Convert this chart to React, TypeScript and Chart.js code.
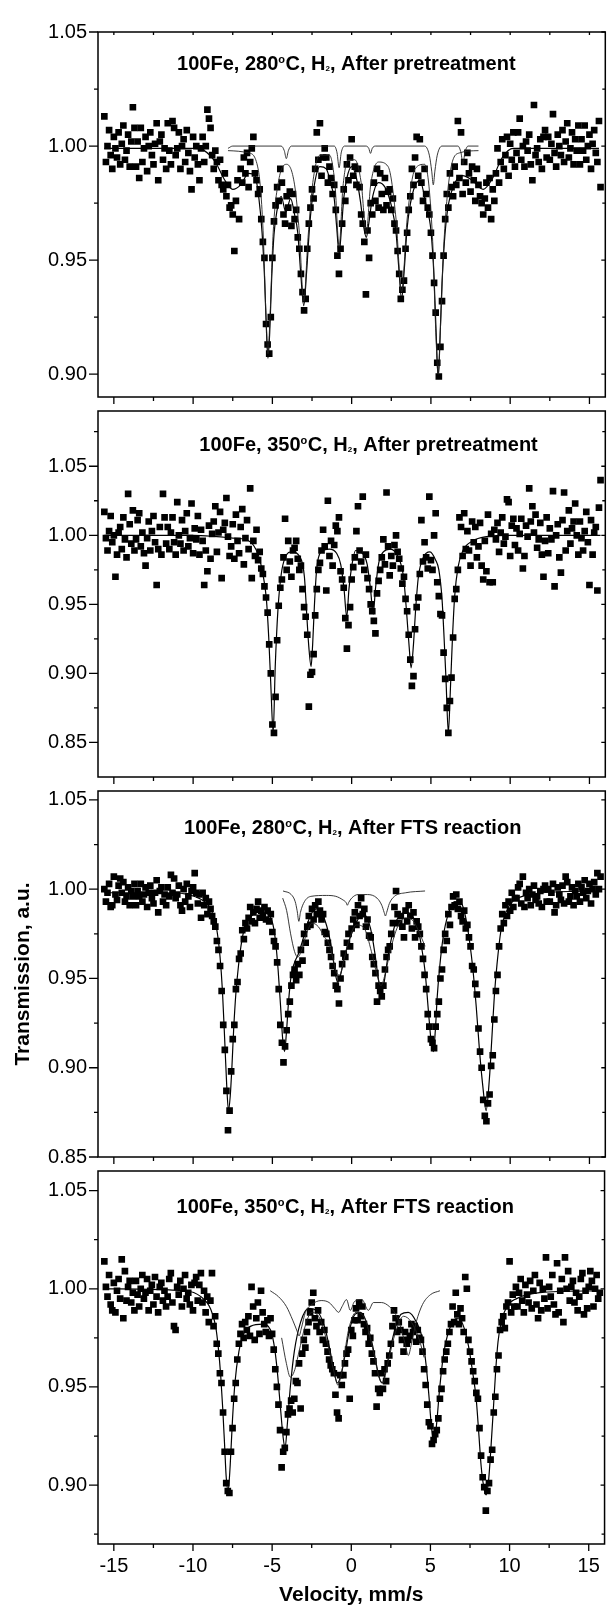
import React, { useEffect, useRef } from 'react';
import { Chart, registerables } from 'chart.js';

Chart.register(...registerables);

const FONT = '"Liberation Sans", Arial, Helvetica, sans-serif';

// velocity channels (mm/s): first channel and channel spacing
const VEL_START = -15.6;
const VEL_STEP = 0.1;

const X_MAJOR = [-15, -10, -5, 0, 5, 10, 15];
const X_MINOR = [-12.5, -7.5, -2.5, 2.5, 7.5, 12.5];

// ---------- Panel 1: 100Fe, 280 C, H2, After pretreatment ----------
const P1_DATA = [
  1.013, 0.993, 1.000, 1.007, 0.996, 0.990, 1.004, 0.999, 0.995, 1.006, 0.992, 1.001, 1.009, 0.994, 0.998, 1.005, 0.991, 1.002, 1.017, 1.008,
  0.991, 1.002, 0.986, 1.008, 0.993, 0.999, 1.004, 0.989, 1.000, 1.006, 0.996, 0.992, 1.001, 1.010, 0.985, 1.002, 1.005, 0.994, 0.999, 0.990,
  1.010, 0.998, 0.992, 1.011, 1.008, 0.996, 0.999, 1.006, 0.990, 1.000, 1.003, 0.993, 1.007, 0.997, 0.989, 0.981, 1.004, 0.995, 1.000, 0.992,
  0.985, 0.999, 1.004, 0.993, 1.000, 1.016, 1.012, 1.008, 0.996, 0.990, 0.998, 0.993, 0.985, 0.994, 0.983, 0.981, 0.988, 0.978, 0.983, 0.973,
  0.974, 0.970, 0.954, 0.976, 0.985, 0.968, 0.990, 0.984, 0.995, 0.988, 0.997, 0.982, 0.993, 0.999, 1.004, 0.988, 0.985, 0.979, 0.981, 0.968,
  0.958, 0.951, 0.922, 0.913, 0.909, 0.925, 0.951, 0.967, 0.974, 0.982, 0.976, 0.990, 0.984, 0.970, 0.966, 0.978, 0.973, 0.980, 0.965, 0.979,
  0.968, 0.972, 0.960, 0.955, 0.944, 0.936, 0.928, 0.933, 0.955, 0.966, 0.973, 0.981, 0.977, 0.990, 1.006, 0.994, 1.010, 0.987, 0.995, 0.999,
  0.995, 0.984, 0.991, 0.986, 0.979, 0.983, 0.972, 0.952, 0.944, 0.955, 0.966, 0.981, 0.976, 0.992, 0.985, 0.995, 1.003, 0.987, 0.991, 0.983,
  0.990, 0.982, 0.970, 0.966, 0.958, 0.935, 0.963, 0.951, 0.975, 0.970, 0.984, 0.976, 0.990, 0.973, 0.988, 0.979, 0.972, 0.986, 0.974, 0.980,
  0.981, 0.972, 0.977, 0.966, 0.963, 0.954, 0.944, 0.933, 0.937, 0.941, 0.955, 0.962, 0.972, 0.978, 0.990, 0.983, 0.995, 1.004, 0.987, 1.003,
  0.984, 0.976, 0.990, 0.979, 0.973, 0.970, 0.962, 0.952, 0.940, 0.927, 0.905, 0.899, 0.912, 0.932, 0.952, 0.968, 0.979, 0.973, 0.988, 0.982,
  0.978, 0.991, 0.983, 1.011, 0.986, 1.006, 0.979, 0.993, 0.984, 0.997, 0.988, 0.980, 0.991, 0.985, 0.976, 0.990, 0.983, 0.978, 0.975, 0.970,
  0.977, 0.984, 0.973, 0.986, 0.968, 0.981, 0.976, 0.988, 0.999, 0.984, 0.993, 1.003, 0.990, 0.996, 1.004, 0.987, 1.001, 0.994, 1.006, 0.991,
  0.997, 1.006, 1.012, 0.994, 1.000, 0.991, 1.002, 0.998, 1.005, 0.992, 0.985, 1.018, 0.996, 0.999, 0.993, 1.003, 0.990, 1.004, 1.007, 0.995,
  1.004, 0.994, 1.001, 1.014, 0.997, 0.991, 1.005, 1.000, 0.996, 1.007, 0.993, 1.002, 1.010, 0.995, 0.999, 1.006, 0.992, 1.003, 0.998, 1.009,
  0.992, 1.003, 0.998, 1.009, 0.994, 1.000, 1.005, 0.990, 1.001, 1.007, 0.997, 0.993, 1.011, 0.982,
];
const P1_FIT = [
  [-15.6, 0.999], [-10, 0.999], [-9.3, 0.998], [-8.6, 0.993], [-8.0, 0.985], [-7.5, 0.981], [-7.0, 0.983], [-6.5, 0.988], [-6.1, 0.987],
  [-5.85, 0.977], [-5.65, 0.962], [-5.5, 0.943], [-5.4, 0.924], [-5.28, 0.907], [-5.17, 0.918], [-5.05, 0.941], [-4.9, 0.961], [-4.7, 0.972],
  [-4.45, 0.978], [-4.15, 0.971], [-3.85, 0.977], [-3.6, 0.970], [-3.4, 0.962], [-3.22, 0.945], [-3.02, 0.930], [-2.84, 0.945], [-2.65, 0.965],
  [-2.4, 0.981], [-2.0, 0.991], [-1.6, 0.990], [-1.3, 0.983], [-1.1, 0.977], [-0.95, 0.965], [-0.79, 0.953], [-0.65, 0.963], [-0.5, 0.977],
  [-0.3, 0.986], [0.0, 0.991], [0.3, 0.986], [0.55, 0.976], [0.75, 0.965], [0.92, 0.960], [1.08, 0.966], [1.3, 0.977], [1.7, 0.984], [2.1, 0.982],
  [2.5, 0.974], [2.8, 0.962], [2.98, 0.946], [3.15, 0.933], [3.32, 0.946], [3.5, 0.964], [3.8, 0.978], [4.3, 0.985], [4.7, 0.974], [5.0, 0.963],
  [5.2, 0.942], [5.33, 0.918], [5.46, 0.898], [5.58, 0.917], [5.7, 0.940], [5.85, 0.958], [6.05, 0.972], [6.4, 0.982], [7.0, 0.987], [7.6, 0.985],
  [8.3, 0.981], [8.9, 0.986], [9.5, 0.995], [10.2, 0.999], [15.6, 0.999],
];
const P1_SUB_A = [
  [-7.8, 0.999], [-7.5, 1.0], [-4.45, 1.0], [-4.25, 0.998], [-4.12, 0.9945], [-3.99, 0.998], [-3.8, 1.0], [-1.1, 1.0], [-0.92, 0.997],
  [-0.79, 0.9905], [-0.66, 0.997], [-0.45, 1.0], [0.9, 1.0], [1.08, 0.999], [1.19, 0.9968], [1.3, 0.999], [1.5, 1.0], [4.6, 1.0], [4.9, 0.996],
  [5.05, 0.989], [5.15, 0.983], [5.25, 0.989], [5.4, 0.996], [5.7, 1.0], [6.7, 1.0], [6.9, 0.997], [7.02, 0.992], [7.14, 0.997], [7.35, 1.0], [8.0, 1.0],
];
const P1_SUB_B = [
  [-7.8, 0.998], [-6.5, 0.997], [-5.9, 0.990], [-5.6, 0.965], [-5.4, 0.925], [-5.28, 0.909], [-5.15, 0.925], [-4.95, 0.962], [-4.6, 0.985],
  [-4.1, 0.992], [-3.6, 0.983], [-3.3, 0.962], [-3.02, 0.932], [-2.75, 0.960], [-2.45, 0.984], [-2.0, 0.996], [-1.4, 0.996], [-1.05, 0.983],
  [-0.79, 0.956], [-0.55, 0.982], [-0.2, 0.994], [0.2, 0.994], [0.6, 0.984], [0.92, 0.962], [1.2, 0.983], [1.7, 0.993], [2.3, 0.991],
  [2.8, 0.968], [3.15, 0.936], [3.5, 0.968], [4.0, 0.990], [4.6, 0.992], [5.1, 0.960], [5.3, 0.920], [5.46, 0.900], [5.6, 0.920], [5.8, 0.955],
  [6.2, 0.988], [6.8, 0.997], [8.0, 0.998],
];

// ---------- Panel 2: 100Fe, 350 C, H2, After pretreatment ----------
const P2_DATA = [
  1.017, 0.998, 0.989, 1.003, 1.014, 0.995, 1.000, 0.970, 0.986, 1.002, 1.006, 0.990, 1.013, 0.997, 0.984, 1.030, 1.008, 0.994, 1.018, 0.989,
  0.997, 1.011, 1.016, 0.992, 1.002, 0.987, 0.978, 0.998, 1.010, 0.989, 1.003, 1.014, 0.995, 0.964, 0.990, 1.006, 0.986, 1.030, 1.013, 0.994,
  1.006, 0.990, 1.002, 1.013, 0.995, 0.986, 1.024, 1.000, 0.994, 1.011, 0.989, 1.003, 1.016, 0.992, 0.998, 1.023, 0.987, 1.005, 0.997, 1.014,
  0.986, 1.004, 0.996, 0.964, 0.989, 0.974, 1.007, 0.983, 1.001, 1.010, 1.021, 0.988, 1.002, 1.017, 0.969, 1.004, 1.009, 1.027, 0.999, 0.985,
  0.992, 1.008, 0.983, 1.015, 0.996, 0.987, 1.006, 1.019, 0.979, 0.998, 1.011, 0.990, 1.034, 0.969, 0.996, 0.985, 1.004, 0.982, 0.988, 0.976,
  0.972, 0.963, 0.955, 0.944, 0.921, 0.900, 0.863, 0.857, 0.883, 0.924, 0.949, 0.962, 0.968, 0.984, 1.012, 0.975, 0.996, 0.981, 0.970, 0.989,
  0.991, 0.996, 0.983, 0.975, 0.978, 0.961, 0.948, 0.941, 0.928, 0.876, 0.899, 0.901, 0.914, 0.942, 0.961, 0.975, 0.980, 0.989, 1.004, 0.992,
  0.960, 1.025, 0.985, 0.996, 0.978, 0.993, 1.007, 1.003, 1.013, 0.974, 0.968, 0.962, 0.940, 0.918, 0.935, 0.948, 0.968, 0.977, 0.984, 1.003,
  1.021, 0.989, 0.981, 1.028, 0.975, 0.986, 0.969, 0.961, 0.950, 0.945, 0.938, 0.929, 0.958, 0.967, 0.975, 0.984, 0.997, 0.979, 1.031, 0.992,
  0.971, 0.985, 0.978, 0.993, 1.000, 0.988, 0.983, 0.976, 0.965, 0.970, 0.954, 0.945, 0.928, 0.910, 0.891, 0.898, 0.932, 0.948, 0.955, 0.972,
  1.011, 0.981, 0.995, 0.984, 0.976, 1.028, 0.982, 0.975, 1.000, 1.016, 0.966, 0.956, 0.943, 0.942, 0.915, 0.896, 0.875, 0.857, 0.880, 0.897,
  0.926, 0.954, 0.961, 0.975, 1.013, 1.006, 0.985, 1.016, 0.990, 1.003, 0.989, 0.978, 1.010, 0.995, 1.006, 0.984, 0.992, 1.009, 0.978, 0.968,
  0.996, 0.974, 1.015, 0.966, 1.001, 0.966, 1.004, 0.997, 1.009, 0.988, 1.002, 1.013, 0.994, 0.999, 1.026, 1.024, 0.985, 1.007, 1.012, 0.993,
  1.005, 0.989, 1.001, 1.012, 0.976, 0.985, 1.007, 0.999, 1.034, 1.010, 1.021, 1.002, 1.015, 0.991, 0.997, 1.009, 0.986, 0.970, 0.996, 1.013,
  0.987, 1.005, 0.997, 1.032, 0.963, 1.000, 1.008, 0.984, 0.973, 1.011, 1.031, 0.989, 1.003, 1.018, 0.994, 1.005, 1.010, 1.023, 1.000, 0.986,
  1.010, 0.998, 0.989, 1.003, 1.017, 0.995, 0.964, 1.011, 0.986, 1.002, 1.006, 0.960, 1.020, 1.040,
];
const P2_FIT = [
  [-15.6, 1.0], [-10, 1.0], [-8.5, 0.999], [-7.5, 0.998], [-6.5, 0.996], [-5.9, 0.986], [-5.6, 0.972], [-5.38, 0.954], [-5.23, 0.926],
  [-5.1, 0.892], [-4.95, 0.857], [-4.82, 0.905], [-4.65, 0.946], [-4.44, 0.972], [-4.19, 0.984], [-3.77, 0.988], [-3.3, 0.985], [-2.98, 0.970],
  [-2.83, 0.942], [-2.7, 0.919], [-2.56, 0.905], [-2.46, 0.921], [-2.35, 0.949], [-2.21, 0.975], [-1.94, 0.988], [-1.41, 0.990], [-0.95, 0.987],
  [-0.69, 0.979], [-0.48, 0.961], [-0.31, 0.941], [-0.17, 0.961], [0.04, 0.980], [0.25, 0.989], [0.56, 0.988], [0.98, 0.979], [1.19, 0.961],
  [1.36, 0.943], [1.5, 0.961], [1.71, 0.980], [2.0, 0.988], [2.44, 0.990], [2.9, 0.985], [3.27, 0.970], [3.48, 0.942], [3.63, 0.919],
  [3.75, 0.904], [3.9, 0.921], [4.04, 0.947], [4.21, 0.970], [4.52, 0.984], [4.94, 0.988], [5.3, 0.982], [5.5, 0.975], [5.7, 0.954],
  [5.83, 0.926], [5.95, 0.896], [6.1, 0.857], [6.22, 0.886], [6.36, 0.926], [6.5, 0.956], [6.71, 0.977], [7.02, 0.989], [7.65, 0.996],
  [8.5, 0.999], [10, 1.0], [15.7, 1.0],
];

// ---------- Panel 3: 100Fe, 280 C, H2, After FTS reaction ----------
const P3_DATA = [
  1.000, 0.993, 0.998, 1.003, 0.990, 0.991, 1.007, 0.997, 0.994, 1.002, 1.006, 0.998, 1.004, 0.993, 0.996, 1.001, 0.991, 0.999, 0.996, 1.003,
  0.991, 0.999, 0.996, 1.003, 0.993, 0.997, 1.001, 0.990, 0.998, 1.002, 0.995, 0.992, 0.998, 1.005, 0.987, 0.999, 1.001, 0.993, 0.997, 0.991,
  1.001, 0.996, 1.008, 0.998, 1.006, 0.995, 0.997, 1.002, 0.991, 0.988, 1.000, 0.993, 1.003, 0.996, 0.990, 0.999, 1.001, 1.009, 0.998, 0.992,
  0.997, 0.984, 0.998, 0.991, 0.995, 0.986, 0.993, 0.989, 0.985, 0.982, 0.979, 0.971, 0.966, 0.957, 0.943, 0.924, 0.910, 0.887, 0.865, 0.876,
  0.898, 0.916, 0.924, 0.944, 0.948, 0.961, 0.964, 0.977, 0.972, 0.981, 0.978, 0.984, 0.990, 0.982, 0.987, 0.981, 0.989, 0.993, 0.984, 0.988,
  0.985, 0.990, 0.983, 0.988, 0.982, 0.986, 0.976, 0.971, 0.968, 0.959, 0.944, 0.924, 0.914, 0.903, 0.912, 0.921, 0.930, 0.937, 0.946, 0.952,
  0.955, 0.949, 0.958, 0.952, 0.966, 0.960, 0.975, 0.970, 0.979, 0.985, 0.980, 0.989, 0.983, 0.991, 0.986, 0.993, 0.988, 0.983, 0.986, 0.976,
  0.975, 0.970, 0.966, 0.962, 0.957, 0.953, 0.946, 0.944, 0.936, 0.950, 0.958, 0.964, 0.962, 0.970, 0.975, 0.968, 0.978, 0.983, 0.987, 0.980,
  0.991, 0.985, 0.995, 0.986, 0.989, 0.979, 0.983, 0.974, 0.973, 0.962, 0.958, 0.953, 0.937, 0.946, 0.943, 0.940, 0.946, 0.955, 0.962, 0.966,
  0.968, 0.975, 0.981, 0.990, 0.999, 0.986, 0.981, 0.985, 0.979, 0.973, 0.988, 0.982, 0.991, 0.985, 0.978, 0.987, 0.973, 0.982, 0.979, 0.975,
  0.968, 0.961, 0.952, 0.944, 0.930, 0.923, 0.916, 0.914, 0.911, 0.923, 0.930, 0.937, 0.950, 0.955, 0.966, 0.975, 0.971, 0.986, 0.980, 0.990,
  0.996, 0.991, 0.997, 0.989, 0.993, 0.985, 0.982, 0.988, 0.978, 0.980, 0.973, 0.968, 0.957, 0.955, 0.947, 0.941, 0.922, 0.909, 0.900, 0.882,
  0.873, 0.870, 0.880, 0.885, 0.901, 0.907, 0.927, 0.943, 0.952, 0.968, 0.978, 0.986, 0.981, 0.991, 0.985, 0.993, 0.988, 0.998, 0.990, 0.995,
  0.995, 1.001, 1.003, 0.992, 1.007, 0.990, 0.998, 0.995, 1.000, 0.991, 0.997, 1.002, 0.994, 0.996, 0.992, 0.999, 0.990, 1.000, 1.002, 0.993,
  1.000, 0.993, 0.998, 1.003, 0.987, 0.991, 1.001, 0.997, 0.994, 1.002, 0.992, 1.007, 1.004, 0.993, 0.996, 1.001, 0.991, 0.999, 0.996, 1.003,
  0.993, 1.001, 0.998, 1.005, 0.995, 0.999, 1.003, 0.992, 1.000, 1.004, 0.997, 1.009, 1.000, 1.007,
];
const P3_FIT = [
  [-15.6, 0.998], [-11.8, 0.998], [-9.25, 0.993], [-8.8, 0.987], [-8.5, 0.977], [-8.3, 0.962], [-8.15, 0.943], [-8.0, 0.914], [-7.88, 0.890],
  [-7.77, 0.876], [-7.66, 0.884], [-7.55, 0.901], [-7.44, 0.922], [-7.3, 0.942], [-7.14, 0.957], [-6.93, 0.971], [-6.73, 0.979], [-6.42, 0.984],
  [-5.89, 0.987], [-5.27, 0.986], [-4.96, 0.980], [-4.79, 0.970], [-4.64, 0.955], [-4.48, 0.934], [-4.35, 0.916], [-4.23, 0.909], [-4.12, 0.919],
  [-3.98, 0.937], [-3.81, 0.952], [-3.6, 0.959], [-3.35, 0.964], [-3.1, 0.971], [-2.85, 0.979], [-2.56, 0.986], [-2.2, 0.989], [-1.8, 0.985],
  [-1.5, 0.977], [-1.25, 0.966], [-1.05, 0.954], [-0.89, 0.948], [-0.7, 0.952], [-0.45, 0.962], [-0.2, 0.970], [0.04, 0.976], [0.46, 0.984],
  [0.77, 0.986], [1.19, 0.978], [1.45, 0.965], [1.65, 0.952], [1.86, 0.942], [2.05, 0.948], [2.25, 0.960], [2.5, 0.972], [2.86, 0.983],
  [3.48, 0.987], [3.9, 0.984], [4.21, 0.977], [4.42, 0.967], [4.63, 0.954], [4.84, 0.932], [5.0, 0.916], [5.15, 0.909], [5.28, 0.921],
  [5.4, 0.940], [5.56, 0.957], [5.77, 0.973], [6.09, 0.986], [6.5, 0.993], [6.92, 0.992], [7.2, 0.984], [7.45, 0.970], [7.65, 0.955],
  [7.86, 0.934], [8.07, 0.909], [8.27, 0.890], [8.48, 0.876], [8.69, 0.894], [8.84, 0.916], [9.0, 0.940], [9.17, 0.958], [9.42, 0.977],
  [9.73, 0.987], [10.15, 0.993], [10.77, 0.996], [12, 0.998], [15.7, 0.999],
];
const P3_SUB_A = [
  [-4.33, 0.999], [-3.81, 0.997], [-3.56, 0.993], [-3.44, 0.988], [-3.33, 0.982], [-3.23, 0.987], [-2.98, 0.993], [-2.56, 0.996],
  [-1.6, 0.9965], [-1.0, 0.996], [-0.55, 0.994], [-0.35, 0.9925], [-0.27, 0.991], [-0.19, 0.9925], [0.0, 0.995], [0.4, 0.997], [1.0, 0.997],
  [1.6, 0.995], [1.9, 0.991], [2.05, 0.987], [2.13, 0.985], [2.21, 0.987], [2.38, 0.992], [2.7, 0.996], [3.4, 0.998], [4.63, 0.999],
];
const P3_SUB_B = [
  [-4.35, 0.995], [-4.1, 0.988], [-3.85, 0.975], [-3.6, 0.965], [-3.4, 0.962], [-3.15, 0.966], [-2.85, 0.975], [-2.5, 0.981], [-2.1, 0.979],
  [-1.7, 0.973], [-1.45, 0.970], [-1.2, 0.962], [-0.95, 0.953], [-0.75, 0.952], [-0.5, 0.960], [-0.15, 0.972], [0.3, 0.980], [0.8, 0.978],
  [1.25, 0.965], [1.6, 0.952], [1.85, 0.946], [2.1, 0.952], [2.45, 0.966], [2.9, 0.979], [3.4, 0.984], [3.9, 0.982], [4.3, 0.975], [4.63, 0.968],
];

// ---------- Panel 4: 100Fe, 350 C, H2, After FTS reaction ----------
const P4_DATA = [
  1.014, 1.001, 0.996, 1.007, 0.992, 0.989, 1.003, 0.988, 0.999, 1.005, 0.995, 1.015, 0.985, 1.009, 0.994, 1.001, 1.004, 0.993, 0.998, 0.989,
  1.004, 0.997, 0.991, 1.000, 1.007, 0.995, 0.998, 1.005, 0.989, 0.999, 1.002, 0.992, 1.006, 0.996, 0.988, 1.001, 1.003, 0.994, 0.999, 0.991,
  0.996, 1.005, 1.008, 0.993, 0.981, 0.979, 1.001, 0.997, 1.004, 0.991, 1.000, 1.007, 0.995, 0.998, 0.992, 1.002, 0.989, 1.003, 1.006, 0.994,
  1.002, 1.008, 0.993, 0.999, 0.988, 0.996, 0.983, 0.994, 1.008, 0.981, 0.986, 0.972, 0.967, 0.957, 0.952, 0.937, 0.917, 0.901, 0.897, 0.896,
  0.917, 0.929, 0.944, 0.952, 0.964, 0.972, 0.977, 0.982, 0.975, 0.983, 0.979, 0.986, 0.976, 1.001, 0.991, 0.974, 0.985, 0.993, 0.977, 0.999,
  0.988, 0.982, 0.978, 0.984, 0.976, 0.985, 0.977, 0.969, 0.959, 0.950, 0.941, 0.928, 0.909, 0.917, 0.919, 0.927, 0.936, 0.939, 0.943, 0.937,
  0.944, 0.953, 0.952, 0.962, 0.939, 0.967, 0.974, 0.970, 0.978, 0.983, 0.988, 0.993, 0.998, 0.985, 0.981, 0.989, 0.978, 0.983, 0.974, 0.979,
  0.972, 0.968, 0.964, 0.961, 0.959, 0.957, 0.946, 0.937, 0.934, 0.956, 0.951, 0.956, 0.962, 0.967, 0.969, 0.944, 0.979, 0.976, 0.984, 0.990,
  0.984, 0.993, 0.986, 0.991, 0.982, 0.978, 0.980, 0.972, 0.975, 0.967, 0.963, 0.957, 0.940, 0.949, 0.947, 0.957, 0.949, 0.959, 0.953, 0.962,
  0.966, 0.972, 0.981, 0.989, 0.985, 0.978, 0.983, 0.979, 0.974, 0.968, 0.978, 0.972, 0.974, 0.976, 0.982, 0.978, 0.981, 0.973, 0.979, 0.975,
  0.974, 0.968, 0.959, 0.951, 0.941, 0.932, 0.930, 0.921, 0.923, 0.926, 0.928, 0.934, 0.944, 0.949, 0.958, 0.964, 0.968, 0.972, 0.978, 0.982,
  0.991, 0.983, 0.998, 0.987, 0.982, 0.990, 0.985, 0.978, 1.006, 1.000, 0.974, 0.968, 0.963, 0.958, 0.953, 0.947, 0.944, 0.929, 0.915, 0.904,
  0.899, 0.887, 0.897, 0.901, 0.913, 0.918, 0.937, 0.945, 0.959, 0.966, 0.979, 0.983, 0.986, 0.980, 0.991, 0.993, 1.014, 0.988, 0.997, 0.991,
  1.001, 0.991, 0.998, 1.005, 0.994, 0.988, 1.002, 0.997, 0.993, 1.004, 0.990, 0.999, 1.007, 0.992, 0.985, 1.003, 0.989, 1.000, 0.995, 1.016,
  0.990, 1.001, 0.996, 1.007, 0.992, 0.987, 1.013, 0.988, 0.999, 1.005, 0.983, 1.016, 1.000, 1.009, 0.994, 1.001, 1.004, 0.993, 0.998, 0.989,
  0.996, 1.005, 1.008, 0.987, 0.999, 0.990, 1.001, 1.009, 1.004, 0.991, 1.000, 1.007, 0.995, 0.998,
];
const P4_FIT = [
  [-15.6, 1.0], [-10.5, 0.999], [-9.5, 0.996], [-8.9, 0.990], [-8.57, 0.981], [-8.4, 0.970], [-8.25, 0.956], [-8.12, 0.939], [-8.0, 0.920],
  [-7.9, 0.904], [-7.78, 0.897], [-7.65, 0.910], [-7.5, 0.934], [-7.35, 0.952], [-7.1, 0.968], [-6.8, 0.977], [-6.34, 0.981], [-5.6, 0.982],
  [-5.1, 0.979], [-4.83, 0.969], [-4.65, 0.956], [-4.47, 0.939], [-4.3, 0.924], [-4.18, 0.919], [-4.03, 0.932], [-3.85, 0.950], [-3.6, 0.968],
  [-3.2, 0.983], [-2.7, 0.990], [-2.2, 0.989], [-1.7, 0.981], [-1.35, 0.969], [-1.1, 0.958], [-0.87, 0.952], [-0.62, 0.957], [-0.38, 0.967],
  [-0.14, 0.978], [0.23, 0.987], [0.59, 0.988], [0.96, 0.983], [1.32, 0.972], [1.57, 0.962], [1.8, 0.954], [1.95, 0.952], [2.17, 0.958],
  [2.45, 0.969], [2.78, 0.980], [3.14, 0.987], [3.6, 0.988], [4.12, 0.983], [4.48, 0.975], [4.73, 0.961], [4.9, 0.946], [5.05, 0.931],
  [5.23, 0.921], [5.4, 0.932], [5.58, 0.949], [5.82, 0.966], [6.18, 0.979], [6.67, 0.985], [7.04, 0.982], [7.4, 0.971], [7.64, 0.959],
  [7.89, 0.944], [8.05, 0.927], [8.2, 0.910], [8.35, 0.900], [8.52, 0.895], [8.68, 0.903], [8.83, 0.920], [8.97, 0.938], [9.12, 0.958],
  [9.27, 0.973], [9.47, 0.983], [9.83, 0.991], [10.44, 0.995], [11.9, 0.998], [15.7, 0.999],
];
const P4_SUB_A = [
  [-5.12, 0.999], [-4.6, 0.996], [-4.1, 0.991], [-3.7, 0.984], [-3.45, 0.979], [-3.3, 0.976], [-3.15, 0.980], [-2.9, 0.988], [-2.5, 0.992],
  [-1.9, 0.994], [-1.4, 0.993], [-1.05, 0.990], [-0.8, 0.988], [-0.58, 0.991], [-0.3, 0.9945], [-0.06, 0.989], [0.2, 0.9935], [0.67, 0.9945],
  [1.08, 0.989], [1.4, 0.993], [1.9, 0.993], [2.4, 0.991], [2.8, 0.987], [3.1, 0.981], [3.4, 0.972], [3.6, 0.966], [3.8, 0.972], [4.1, 0.983],
  [4.5, 0.992], [5.0, 0.997], [5.6, 0.999],
];
const P4_SUB_B = [
  [-4.4, 0.975], [-4.1, 0.962], [-3.85, 0.955], [-3.6, 0.958], [-3.3, 0.968], [-2.95, 0.980], [-2.5, 0.988], [-2.0, 0.985], [-1.5, 0.972],
  [-1.1, 0.958], [-0.85, 0.951], [-0.55, 0.960], [-0.2, 0.978], [0.3, 0.988], [0.9, 0.984], [1.4, 0.968], [1.75, 0.955], [2.0, 0.952],
  [2.3, 0.962], [2.8, 0.978], [3.3, 0.986], [3.8, 0.983], [4.3, 0.974], [4.6, 0.965],
];

// ---------- Titles (text segments: normal / superscript / subscript) ----------
const TITLE_1 = [['100Fe, 280', ''], ['o', 'sup'], ['C, H', ''], ['2', 'sub'], [', After pretreatment', '']];
const TITLE_2 = [['100Fe, 350', ''], ['o', 'sup'], ['C, H', ''], ['2', 'sub'], [', After pretreatment', '']];
const TITLE_3 = [['100Fe, 280', ''], ['o', 'sup'], ['C, H', ''], ['2', 'sub'], [', After FTS reaction', '']];
const TITLE_4 = [['100Fe, 350', ''], ['o', 'sup'], ['C, H', ''], ['2', 'sub'], [', After FTS reaction', '']];

const Y_LABEL = 'Transmission, a.u.';
const X_LABEL = 'Velocity, mm/s';

// ---------- Panel layout ----------
const PANELS = [
  { data: P1_DATA, fits: [P1_FIT], subs: [P1_SUB_A, P1_SUB_B], yMin: 0.89, yMax: 1.05,
    yMajor: [0.9, 0.95, 1.0, 1.05], yMinor: [0.925, 0.975, 1.025], title: TITLE_1, titleX: -0.35, titleDy: 38, top: 25, bottom: 404 },
  { data: P2_DATA, fits: [P2_FIT], subs: [], yMin: 0.825, yMax: 1.09,
    yMajor: [0.85, 0.9, 0.95, 1.0, 1.05], yMinor: [0.875, 0.925, 0.975, 1.025, 1.075], title: TITLE_2, titleX: 1.05, titleDy: 40, top: 404, bottom: 784 },
  { data: P3_DATA, fits: [P3_FIT], subs: [P3_SUB_A, P3_SUB_B], yMin: 0.85, yMax: 1.055,
    yMajor: [0.85, 0.9, 0.95, 1.0, 1.05], yMinor: [0.875, 0.925, 0.975, 1.025], title: TITLE_3, titleX: 0.05, titleDy: 43, top: 784, bottom: 1164 },
  { data: P4_DATA, fits: [P4_FIT], subs: [P4_SUB_A, P4_SUB_B], yMin: 0.87, yMax: 1.06,
    yMajor: [0.9, 0.95, 1.0, 1.05], yMinor: [0.875, 0.925, 0.975, 1.025], title: TITLE_4, titleX: -0.4, titleDy: 42, top: 1164, bottom: 1544 },
];

const PAD_TOP = 16;
const PAD_BOTTOM = 16;
const X_AXIS_H = 66;
const Y_AXIS_W = 98;
const W = 610;

function canvasHeight(i: number) {
  const p = PANELS[i];
  const h = p.bottom - p.top;
  return i === PANELS.length - 1 ? h + PAD_TOP + X_AXIS_H : h + PAD_TOP + PAD_BOTTOM;
}

function drawTitle(ctx: CanvasRenderingContext2D, parts: string[][], cx: number, by: number) {
  const fonts: Record<string, string> = {
    '': `bold 20px ${FONT}`,
    sup: `bold 11px ${FONT}`,
    sub: `bold 8px ${FONT}`,
  };
  let total = 0;
  parts.forEach(([t, k]) => { ctx.font = fonts[k]; total += ctx.measureText(t).width; });
  let x = cx - total / 2;
  ctx.fillStyle = '#000';
  ctx.textAlign = 'left';
  ctx.textBaseline = 'alphabetic';
  parts.forEach(([t, k]) => {
    ctx.font = fonts[k];
    const dy = k === 'sup' ? -7 : k === 'sub' ? 1 : 0;
    ctx.fillText(t, x, by + dy);
    x += ctx.measureText(t).width + (k === 'sup' ? 0.5 : 0);
  });
}

function makeFramePlugin(i: number) {
  const p = PANELS[i];
  return {
    id: 'frame' + i,
    afterDraw(chart: any) {
      const { ctx, chartArea: a } = chart;
      const xs = chart.scales.x;
      const ys = chart.scales.y;
      ctx.save();
      ctx.strokeStyle = '#000';
      ctx.lineWidth = 1.5;
      ctx.strokeRect(a.left, a.top, a.right - a.left, a.bottom - a.top);
      ctx.lineWidth = 1.3;
      ctx.beginPath();
      const seg = (x1: number, y1: number, x2: number, y2: number) => { ctx.moveTo(x1, y1); ctx.lineTo(x2, y2); };
      p.yMajor.forEach((v) => { const py = ys.getPixelForValue(v); seg(a.left - 9, py, a.left, py); seg(a.right - 4, py, a.right, py); });
      p.yMinor.forEach((v) => { const py = ys.getPixelForValue(v); seg(a.left - 4, py, a.left, py); seg(a.right - 3, py, a.right, py); });
      X_MAJOR.forEach((v) => {
        const px = xs.getPixelForValue(v);
        seg(px, a.bottom, px, a.bottom + 7);
        if (i === 0) seg(px, a.top, px, a.top + 3);
      });
      X_MINOR.forEach((v) => {
        const px = xs.getPixelForValue(v);
        seg(px, a.bottom, px, a.bottom + 4);
        if (i === 0) seg(px, a.top, px, a.top + 3);
      });
      ctx.stroke();
      drawTitle(ctx, p.title, xs.getPixelForValue(p.titleX), a.top + p.titleDy);
      ctx.restore();
    },
  };
}

function buildChart(canvas: HTMLCanvasElement, i: number) {
  const p = PANELS[i];
  const isLast = i === PANELS.length - 1;
  const points = p.data.map((t, k) => ({ x: Math.round((VEL_START + k * VEL_STEP) * 100) / 100, y: t }));
  const lineDs = (pts: number[][], width: number, color: string) => ({
    data: pts.map(([x, y]) => ({ x, y })),
    showLine: true,
    pointRadius: 0,
    borderColor: color,
    borderWidth: width,
    cubicInterpolationMode: 'monotone',
    fill: false,
    order: 0,
  });
  const datasets: any[] = [
    ...p.subs.map((s) => lineDs(s, 0.9, '#222')),
    ...p.fits.map((f) => lineDs(f, 1.2, '#000')),
    {
      data: points,
      pointStyle: 'rect',
      pointRadius: 4.7,
      backgroundColor: '#000',
      borderWidth: 0,
      showLine: false,
      order: 1,
    },
  ];
  return new Chart(canvas, {
    type: 'scatter',
    data: { datasets },
    options: {
      animation: false,
      responsive: false,
      devicePixelRatio: 1,
      events: [],
      layout: { padding: { top: PAD_TOP, bottom: isLast ? 0 : PAD_BOTTOM, left: 0, right: 0.5 } },
      plugins: { legend: { display: false }, tooltip: { enabled: false }, title: { display: false } },
      scales: {
        x: {
          type: 'linear',
          min: -16,
          max: 16,
          display: isLast,
          position: 'bottom',
          grid: { display: false, drawTicks: false },
          border: { display: false },
          ticks: { font: { size: 20, family: FONT }, color: '#000', padding: 10, autoSkip: false, maxRotation: 0 },
          afterBuildTicks: (s: any) => { s.ticks = X_MAJOR.map((v) => ({ value: v })); },
          afterFit: (s: any) => { s.height = isLast ? X_AXIS_H : 0; },
          title: {
            display: isLast,
            text: X_LABEL,
            color: '#000',
            font: { size: 21, weight: 'bold', family: FONT },
            padding: { top: 0, bottom: 2 },
          },
        },
        y: {
          type: 'linear',
          min: p.yMin,
          max: p.yMax,
          position: 'left',
          grid: { display: false, drawTicks: false },
          border: { display: false },
          ticks: {
            font: { size: 20, family: FONT },
            color: '#000',
            padding: 11,
            autoSkip: false,
            callback: (v: any) => Number(v).toFixed(2),
          },
          afterBuildTicks: (s: any) => { s.ticks = p.yMajor.map((v) => ({ value: v })); },
          afterFit: (s: any) => { s.width = Y_AXIS_W; },
          title: {
            display: i === 2,
            text: Y_LABEL,
            color: '#000',
            font: { size: 21, weight: 'bold', family: FONT },
            padding: { top: 11, bottom: 0 },
          },
        },
      },
    } as any,
    plugins: [makeFramePlugin(i)],
  });
}

export default function App() {
  const refs = useRef<(HTMLCanvasElement | null)[]>([]);
  useEffect(() => {
    Chart.defaults.font.family = FONT;
    const charts = PANELS.map((_, i) => buildChart(refs.current[i] as HTMLCanvasElement, i));
    return () => { charts.forEach((c) => c.destroy()); };
  }, []);
  return (
    <div style={{ position: 'absolute', left: 0, top: 0, width: W, height: 1612, overflow: 'hidden', background: '#fff' }}>
      {PANELS.map((p, i) => {
        const h = canvasHeight(i);
        return (
          <canvas
            key={i}
            ref={(el) => { refs.current[i] = el; }}
            width={W}
            height={h}
            style={{ position: 'absolute', left: 0, top: p.top - PAD_TOP, width: W, height: h }}
          />
        );
      })}
    </div>
  );
}
